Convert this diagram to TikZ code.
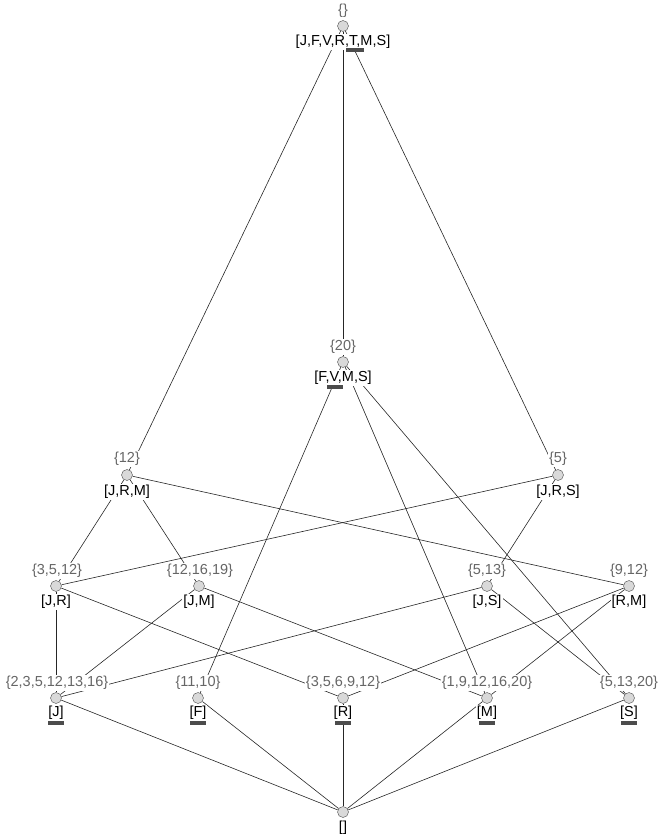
\documentclass[tikz,border=0pt]{standalone}
\usepackage{fontspec}
\setmainfont{Liberation Sans}
\usetikzlibrary{positioning}

\tikzset{
  obj/.style={circle, draw=black!70, fill=black!15, minimum size=11pt, inner sep=0pt},
  extlbl/.style={text=black!60, fill=white, inner sep=1pt, font=\fontsize{14.5}{16}\selectfont},
  intlbl/.style={text=black, fill=white, inner sep=1pt, font=\fontsize{14.5}{16}\selectfont},
  edge/.style={draw=black!85, line width=0.6pt},
  bar/.style={draw=black!70, line width=3.5pt}
}

\begin{document}
\begin{tikzpicture}[x=1pt, y=-1pt]
    \useasboundingbox (0,0) rectangle (660,837);

    % Concepts
    \node[obj] (top) at (343,26) {};
    \node[obj] (c20) at (343,362) {};
    \node[obj] (c12) at (127,475) {};
    \node[obj] (c5)  at (558,475) {};
    \node[obj] (cJR) at (56,586) {};
    \node[obj] (cJM) at (199,586) {};
    \node[obj] (cJS) at (487,586) {};
    \node[obj] (cRM) at (629,586) {};
    \node[obj] (cJ)  at (56,698) {};
    \node[obj] (cF)  at (198,698) {};
    \node[obj] (cR)  at (343,698) {};
    \node[obj] (cM)  at (487,698) {};
    \node[obj] (cS)  at (629,698) {};
    \node[obj] (bot) at (343,812) {};

    % Lines
    \foreach \a/\b in {top/c12, top/c20, top/c5, c20/cF, c20/cM, c20/cS,
                       c12/cJR, c12/cJM, c12/cRM, c5/cJR, c5/cJS,
                       cJR/cJ, cJR/cR, cJM/cJ, cJM/cM, cJS/cJ, cJS/cS,
                       cRM/cR, cRM/cM, cJ/bot, cF/bot, cR/bot, cM/bot, cS/bot}
        \draw[edge] (\a) -- (\b);

    % Extents
    \node[extlbl] (etop) at (343,11) {\{\}};
    \node[extlbl] (e20)  at (343,347) {\{20\}};
    \node[extlbl] (e12)  at (127,459) {\{12\}};
    \node[extlbl] (e5)   at (558,459) {\{5\}};
    \node[extlbl] (eJR)  at (57,571) {\{3,5,12\}};
    \node[extlbl] (eJM)  at (200,571) {\{12,16,19\}};
    \node[extlbl] (eJS)  at (487,571) {\{5,13\}};
    \node[extlbl] (eRM)  at (629,571) {\{9,12\}};
    \node[extlbl] (eJ)   at (57,683) {\{2,3,5,12,13,16\}};
    \node[extlbl] (eF)   at (198,683) {\{11,10\}};
    \node[extlbl] (eR)   at (343,683) {\{3,5,6,9,12\}};
    \node[extlbl] (eM)   at (487,683) {\{1,9,12,16,20\}};
    \node[extlbl] (eS)   at (629,683) {\{5,13,20\}};

    % Intents
    \node[intlbl] (itop) at (343,42) {[J,F,V,R,T,M,S]};
    \node[intlbl] (i20)  at (343,378) {[F,V,M,S]};
    \node[intlbl] (i12)  at (127,492) {[J,R,M]};
    \node[intlbl] (i5)   at (558,492) {[J,R,S]};
    \node[intlbl] (iJR)  at (56,602) {[J,R]};
    \node[intlbl] (iJM)  at (199,602) {[J,M]};
    \node[intlbl] (iJS)  at (487,602) {[J,S]};
    \node[intlbl] (iRM)  at (629,602) {[R,M]};
    \node[intlbl] (iJ)   at (56,713) {[J]};
    \node[intlbl] (iF)   at (198,713) {[F]};
    \node[intlbl] (iR)   at (343,713) {[R]};
    \node[intlbl] (iM)   at (487,713) {[M]};
    \node[intlbl] (iS)   at (629,713) {[S]};
    \node[intlbl] (ibot) at (343,828) {[]};

    % Bars
    \draw[bar] (346,50) -- (364,50);
    \draw[bar] (327,387) -- (343,387);
    \foreach \x in {56,198,343,487,629}
        \draw[bar] (\x-8,723) -- (\x+8,723);
\end{tikzpicture}
\end{document}
